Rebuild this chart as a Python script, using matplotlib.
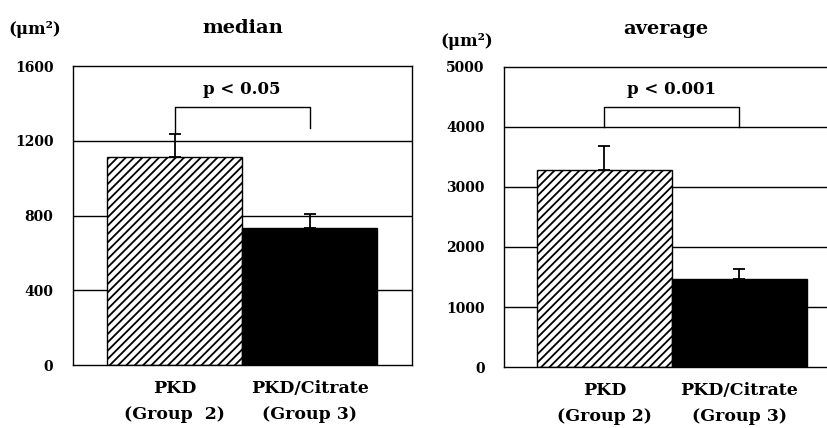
"""Glomerular/cyst area comparison: PKD vs PKD/Citrate, median and average panels."""

import matplotlib
matplotlib.use("Agg")
import matplotlib.pyplot as plt  # noqa: E402

GROUPS = ["PKD\n(Group  2)", "PKD/Citrate\n(Group 3)"]
GROUPS_R = ["PKD\n(Group 2)", "PKD/Citrate\n(Group 3)"]
MEDIAN = [1115, 731]
MEDIAN_ERR = [122, 75]
AVERAGE = [3290, 1470]
AVERAGE_ERR = [385, 170]
MEDIAN_TICKS = [0, 400, 800, 1200, 1600]
AVERAGE_TICKS = [0, 1000, 2000, 3000, 4000, 5000]

FONT = "DejaVu Serif"
plt.rcParams.update({"font.family": FONT, "font.weight": "bold",
                     "hatch.linewidth": 1.3, "axes.linewidth": 1.0})


def panel(ax, vals, errs, ticks, labels, title, ptext, bracket, hide_right=False):
    ax.set_axisbelow(True)
    for t in ticks[1:-1]:
        ax.axhline(t, color="black", lw=1.0, zorder=0)
    ax.bar([0], vals[:1], width=1.0, color="white", edgecolor="black",
           hatch="////", lw=1.0, zorder=2)
    ax.bar([1], vals[1:], width=1.0, color="black", edgecolor="black", lw=1.0, zorder=2)
    ax.errorbar([0, 1], vals, yerr=[[0, 0], errs], fmt="none", ecolor="black",
                elinewidth=1.3, capsize=4, capthick=1.3, zorder=1)
    ax.set_ylim(ticks[0], ticks[-1])
    ax.set_yticks(ticks)
    ax.set_yticklabels([str(t) for t in ticks], fontsize=10, fontweight="bold")
    ax.tick_params(axis="y", length=0, pad=14)
    ax.tick_params(axis="x", length=0, pad=11)
    ax.set_xticks([0, 1])
    ax.set_xticklabels(labels, fontsize=12.5, fontweight="bold")
    for lab in ax.get_xticklabels():
        lab.set_linespacing(1.65)
    ax.set_title(title, fontsize=14, fontweight="bold", pad=24)
    top, left_end, right_end = bracket
    ax.plot([0, 0, 1, 1], [left_end, top, top, right_end], color="black", lw=1.0, zorder=3)
    ax.text(0.5, top + (ticks[-1] - ticks[0]) * 0.03, ptext, ha="center", va="bottom",
            fontsize=12, fontweight="bold")
    if hide_right:
        ax.spines["right"].set_visible(False)


fig = plt.figure(figsize=(8.28, 4.28), dpi=100)
ax1 = fig.add_axes([0.088, 0.147, 0.4094, 0.6986])
ax1.set_xlim(-0.754, 1.757)
panel(ax1, MEDIAN, MEDIAN_ERR, MEDIAN_TICKS, GROUPS, "median", "p < 0.05",
      (1381, 1237, 1270))

ax2 = fig.add_axes([0.6087, 0.1425, 0.3913, 0.701])
ax2.set_xlim(-0.744, 1.656)
panel(ax2, AVERAGE, AVERAGE_ERR, AVERAGE_TICKS, GROUPS_R, "average", "p < 0.001",
      (4333, 4000, 4000), hide_right=True)

fig.text(0.01, 1 - 30 / 428, "(μm²)", fontsize=12, va="center", ha="left")
fig.text(0.532, 1 - 42 / 428, "(μm²)", fontsize=12, va="center", ha="left")

fig.savefig("out.png", dpi=100)
